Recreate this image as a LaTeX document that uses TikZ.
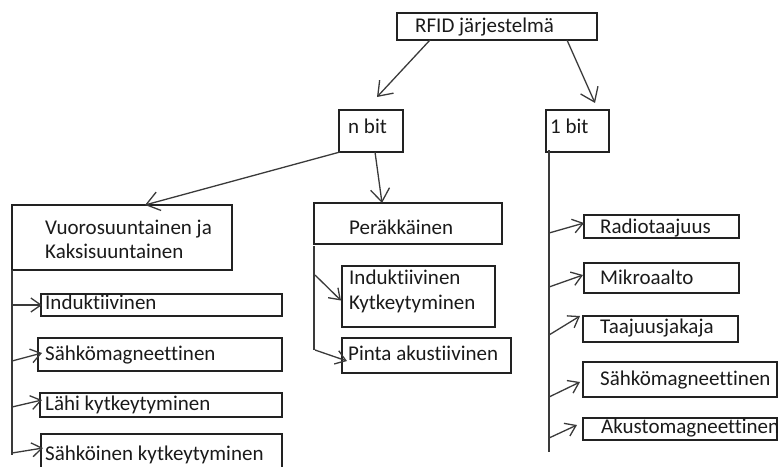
\documentclass[tikz,border=0pt]{standalone}
\usepackage{fontspec}
\setmainfont{Carlito}[Ligatures={NoCommon}]
\usetikzlibrary{arrows.meta,calc}
\definecolor{boxc}{HTML}{222222}
\definecolor{linec}{HTML}{3A3A3A}
\definecolor{txtc}{HTML}{1A1A1A}
\begin{document}
\begin{tikzpicture}[x=1pt,y=-1pt,
  box/.style={draw=boxc, line width=1.4pt, anchor=north west, inner sep=0pt, outer sep=0pt},
  lbl/.style={anchor=base west, inner sep=0pt, font=\fontsize{21}{25}\selectfont, text=txtc},
  conn/.style={draw=linec, line width=1.3pt},
  arr/.style={conn, -{Straight Barb[length=10pt,width=14pt,line width=1.3pt]}},
  bigarr/.style={conn, -{Straight Barb[length=13pt,width=19pt,line width=1.3pt]}}]
\useasboundingbox (0,0) rectangle (778,466);
\clip (0,0) rectangle (778,466);

% boxes
\node[box, minimum width=200pt, minimum height=27pt] (rfid) at (397,13) {};
\node[box, minimum width=64pt, minimum height=42pt] (nbit) at (339,110) {};
\node[box, minimum width=63pt, minimum height=42pt] (obit) at (546,110) {};
\node[box, minimum width=220pt, minimum height=65pt] (vk) at (12,205) {};
\node[box, minimum width=241pt, minimum height=22pt] (ind) at (41,294) {};
\node[box, minimum width=244pt, minimum height=33pt] (sm1) at (38,338) {};
\node[box, minimum width=242pt, minimum height=24pt] (lahi) at (40,393) {};
\node[box, minimum width=241pt, minimum height=50pt] (sahk) at (41,434) {};
\node[box, minimum width=188pt, minimum height=41pt] (per) at (314,203) {};
\node[box, minimum width=153pt, minimum height=61pt] (ik) at (342,266) {};
\node[box, minimum width=169pt, minimum height=35pt] (pinta) at (342,338) {};
\node[box, minimum width=155pt, minimum height=23pt] (radio) at (584,215) {};
\node[box, minimum width=155pt, minimum height=30pt] (mikro) at (584,263) {};
\node[box, minimum width=155pt, minimum height=26pt] (taaj) at (583,316) {};
\node[box, minimum width=194pt, minimum height=35pt] (sm2) at (583,362) {};
\node[box, minimum width=194pt, minimum height=22pt] (aku) at (583,418) {};

% texts
\node[lbl] (t-rfid) at (415,32) {RFID järjestelmä};
\node[lbl] (t-nbit) at (348,133) {n bit};
\node[lbl] (t-obit) at (550,133) {1 bit};
\node[lbl] (t-vk1) at (45,234) {Vuorosuuntainen ja};
\node[lbl] (t-vk2) at (45,258) {Kaksisuuntainen};
\node[lbl] (t-ind) at (45,309) {Induktiivinen};
\node[lbl] (t-sm1) at (45,360) {Sähkömagneettinen};
\node[lbl] (t-lahi) at (45,410) {Lähi kytkeytyminen};
\node[lbl] (t-sahk) at (45,460) {Sähköinen kytkeytyminen};
\node[lbl] (t-per) at (349,234) {Peräkkäinen};
\node[lbl] (t-ik1) at (349,284) {Induktiivinen};
\node[lbl] (t-ik2) at (349,309) {Kytkeytyminen};
\node[lbl] (t-pinta) at (348,360) {Pinta akustiivinen};
\node[lbl] (t-radio) at (600,233) {Radiotaajuus};
\node[lbl] (t-mikro) at (600,284) {Mikroaalto};
\node[lbl] (t-taaj) at (600,333) {Taajuusjakaja};
\node[lbl] (t-sm2) at (600,385) {Sähkömagneettinen};
\node[lbl] (t-aku) at (601,433) {Akustomagneettinen};

% top arrows
\draw[bigarr] ([xshift=33pt]rfid.south west) -- ([xshift=6pt,yshift=13pt]nbit.north);
\draw[bigarr] ([xshift=-30pt]rfid.south east) -- ([xshift=17.5pt,yshift=7pt]obit.north);
\draw[bigarr] ([xshift=1pt]nbit.south west) -- ([xshift=23pt]vk.north);
\draw[bigarr] ([xshift=4pt]nbit.south) -- ([xshift=-26pt]per.north);

% trunk lines
\coordinate (vkend) at (12,455);
\coordinate (perend) at (314,350);
\coordinate (obitend) at (549,452);
\draw[conn] (vk.south west) -- (vkend);
\draw[conn] ([yshift=-2pt]per.south west) -- (perend);
\draw[conn] ([xshift=3pt,yshift=2pt]obit.south west) -- (obitend);

% branch start points
\coordinate (s1) at (12,305);
\coordinate (s2) at (12,361);
\coordinate (s3) at (12,407);
\coordinate (s4) at (12,453);
\coordinate (p1) at (315,275);
\coordinate (p2) at (315,350);
\coordinate (r1) at (549,233);
\coordinate (r2) at (549,287);
\coordinate (r3) at (549,335);
\coordinate (r4) at (549,397);
\coordinate (r5) at (549,438);

\draw[arr] (s1) -- ([xshift=1pt]ind.west);
\draw[arr] (s2) -- ([xshift=4pt,yshift=1.5pt]sm1.west);
\draw[arr] (s3) -- ([xshift=2pt,yshift=5pt]lahi.west);
\draw[arr] (s4) -- ([xshift=2pt]sahk.north west |- 0,448);
\draw[arr] (p1) -- ([xshift=-1pt,yshift=-4pt]ik.west);
\draw[arr] (p2) -- ([xshift=5pt,yshift=-5.5pt]pinta.west);
\draw[arr] (r1) -- ([yshift=3.5pt]radio.west);
\draw[arr] (r2) -- ([xshift=-1pt,yshift=3pt]mikro.west);
\draw[arr] (r3) -- ([xshift=-3pt]taaj.north west);
\draw[arr] (r4) -- ([xshift=-3pt,yshift=-2.5pt]sm2.west);
\draw[arr] (r5) -- ([xshift=-6pt,yshift=4pt]aku.west);
\end{tikzpicture}
\end{document}
